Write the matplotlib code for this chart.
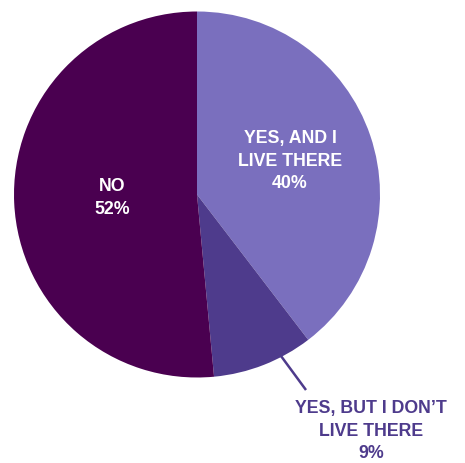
import matplotlib.pyplot as plt

# Share of answers
labels = ["YES, AND I\nLIVE THERE", "YES, BUT I DON\u2019T\nLIVE THERE", "NO"]
values = [40, 9, 52]
colors = ["#7A6FBE", "#4E3B8C", "#4A0050"]

W, H = 465, 463
fig = plt.figure(figsize=(W / 100, H / 100), dpi=100)
ax = fig.add_axes([0, 0, 1, 1])

cx, cy, r = 197, H - 194.5, 183
ax.pie(values, colors=colors, startangle=90, counterclock=False,
       center=(cx, cy), radius=r, frame=True,
       wedgeprops=dict(linewidth=0))
ax.set_xlim(0, W)
ax.set_ylim(0, H)
ax.set_aspect("equal")
ax.axis("off")

font = dict(fontweight="bold", fontsize=12.8, ha="center", va="center",
            family="Liberation Sans", linespacing=1.42)

ax.text(290, H - 161, f"{labels[0]}\n{values[0]}%", color="white", **font)
ax.text(112, H - 198, f"{labels[2]}\n{values[2]}%", color="white", **font)

# leader line for the small slice
ax.plot([281, 306], [H - 356, H - 390], color=colors[1], lw=1.8,
        solid_capstyle="butt")
ax.text(371, H - 431, f"{labels[1]}\n{values[1]}%", color=colors[1], **font)

fig.savefig("out.png", dpi=100)
